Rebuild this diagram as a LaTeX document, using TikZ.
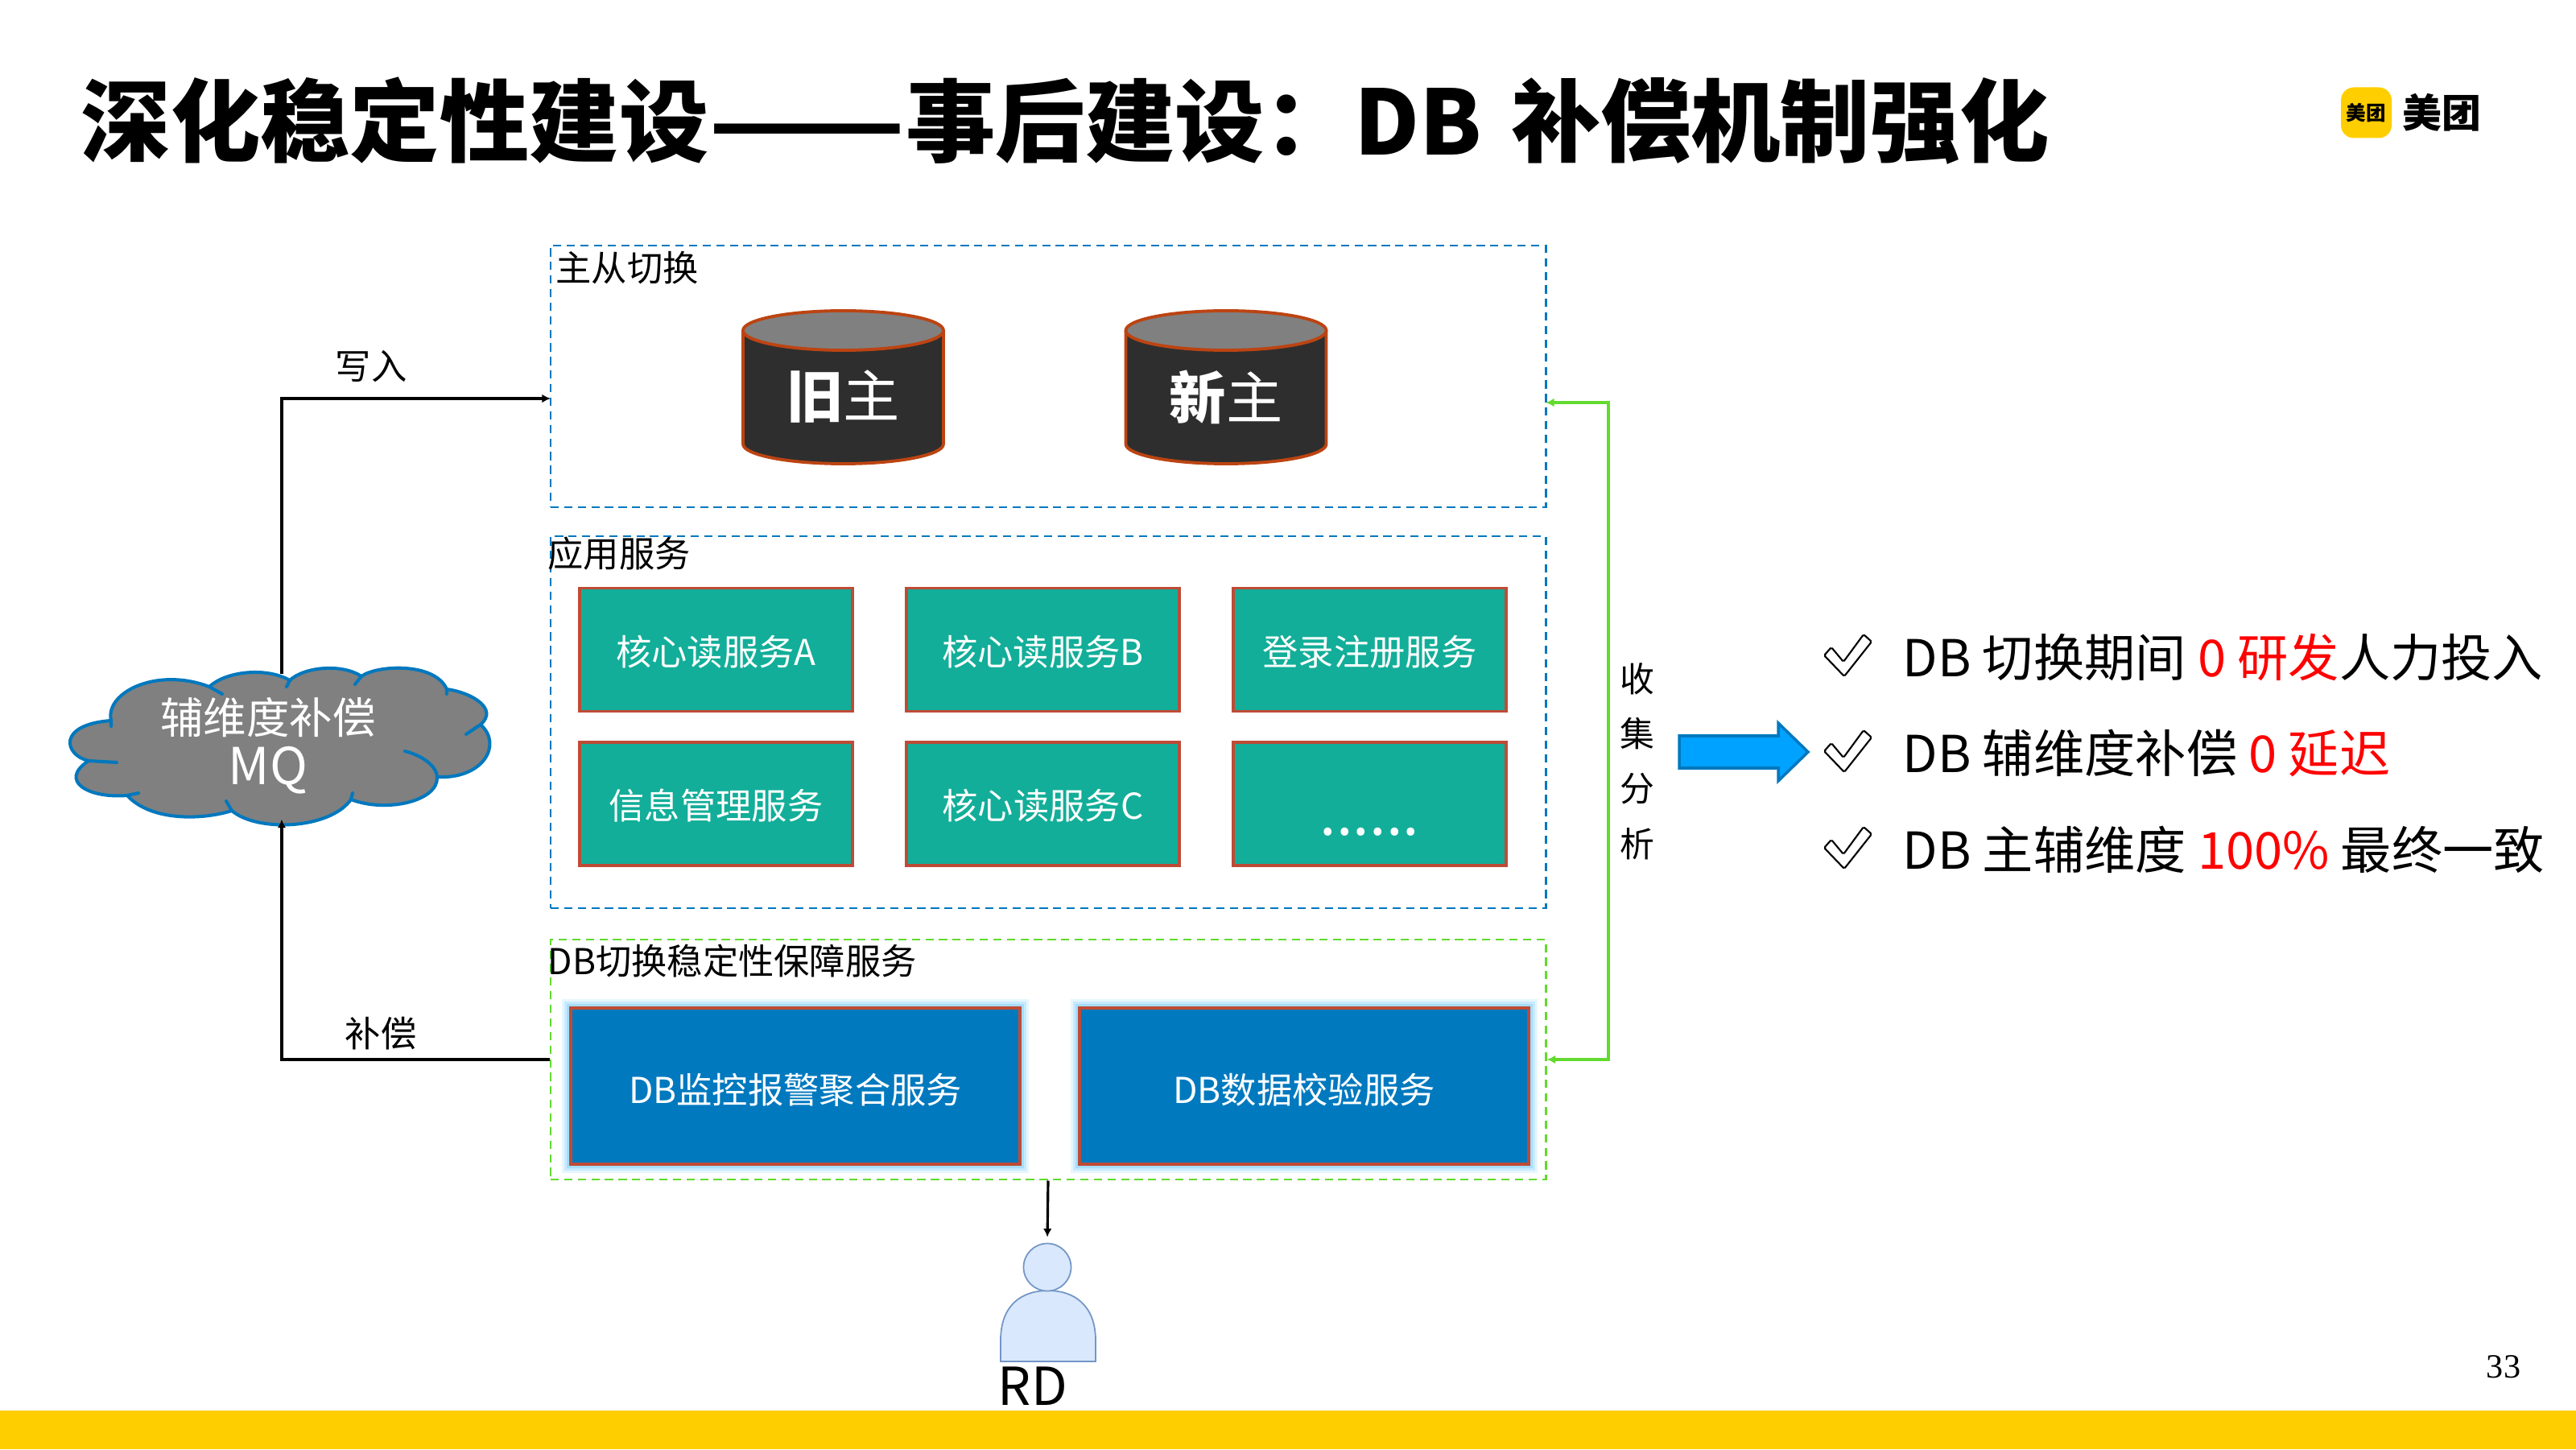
\documentclass[tikz,border=0pt]{standalone}
\usepackage{fontspec}
\setmainfont{Noto Sans CJK SC}
\newfontfamily\pagefont{Liberation Serif}
\usepackage{tikz}
\usetikzlibrary{calc}
\usetikzlibrary{arrows.meta}
\definecolor{dashblue}{HTML}{0078BE}
\definecolor{dashgreen}{HTML}{62DA2F}
\definecolor{edgered}{HTML}{BE4B36}
\definecolor{dbred}{HTML}{BC4412}
\definecolor{tealfill}{HTML}{12AE99}
\definecolor{bluefill}{HTML}{0079BF}
\definecolor{arrowfill}{HTML}{00A2FF}
\definecolor{barcolor}{HTML}{FFCE00}
\definecolor{glowblue}{HTML}{8FD4FF}
\definecolor{rdfill}{HTML}{D9E8FC}
\definecolor{rdline}{HTML}{7396C6}
\tikzset{
	txt/.style={font=\fontsize{12.6}{15}\selectfont,inner sep=0pt},
	group/.style={draw,dash pattern=on 2.9pt off 1.9pt,line width=0.85pt,inner sep=0pt},
	svcbox/.style={draw=edgered,fill=tealfill,line width=1.1pt,minimum width=3.39cm,minimum height=1.53cm,text=white,txt,text height=0.44cm,text depth=0.05cm},
	dbbox/.style={draw=edgered,fill=bluefill,line width=1.1pt,minimum width=5.58cm,minimum height=1.94cm,text=white,txt,text height=0.47cm,text depth=0.05cm,
		preaction={draw=glowblue,line width=6.5pt,opacity=0.22},
		preaction={draw=glowblue,line width=4.5pt,opacity=0.35},
		preaction={draw=glowblue,line width=2.8pt,opacity=0.6}},
	dbcyl/.style={draw=dbred,line width=1.1pt},
	blackline/.style={draw=black,line width=0.9pt},
	greenline/.style={draw=dashgreen,line width=1pt},
	result/.style={font=\fontsize{18}{21}\selectfont,inner sep=0pt,anchor=west},
	cloudline/.style={draw=dashblue,line width=1.15pt,line cap=round}
}
\begin{document}
\begin{tikzpicture}
	\useasboundingbox (0,0) rectangle (32,18);
	\fill[barcolor] (0,0) rectangle (32,0.48);
	\node (title) at (1.0,16.5) [anchor=west,inner sep=0pt,font=\fontsize{31.7}{36}\selectfont\bfseries] {深化稳定性建设\scalebox{1.28}[1]{——}事后建设：DB\hspace{0.1em} 补偿机制强化};
	
	%Logo
	\node (logo) at (29.395,16.6) [fill=barcolor,rounded corners=0.16cm,minimum size=0.63cm,inner sep=0pt,font=\fontsize{7}{8}\selectfont\bfseries] {美团};
	\node (logotxt) at (30.33,16.6) [inner sep=0pt,font=\fontsize{13.9}{16}\selectfont\bfseries] {美团};
	
	%Grupos
	\node (switch) at (13.02,13.325) [group,draw=dashblue,minimum width=12.36cm,minimum height=3.25cm] {};
	\node (apps) at (13.02,9.03) [group,draw=dashblue,minimum width=12.36cm,minimum height=4.62cm] {};
	\node (guard) at (13.02,4.84) [group,draw=dashgreen,minimum width=12.36cm,minimum height=2.98cm] {};
	\node (switchtxt) at (6.9,14.67) [txt,anchor=west] {主从切换};
	\node (appstxt) at (6.8,11.12) [txt,anchor=west] {应用服务};
	\node (guardtxt) at (6.8,6.06) [txt,anchor=west] {DB切换稳定性保障服务};
	
	%Cilindros
	\foreach \cx in {10.475,15.23} {
		\fill[black!82] (\cx-1.245,13.895) -- (\cx-1.245,12.485) arc (180:360:1.245 and 0.245) -- (\cx+1.245,13.895) -- cycle;
		\draw[dbcyl] (\cx-1.245,13.895) -- (\cx-1.245,12.485) arc (180:360:1.245 and 0.245) -- (\cx+1.245,13.895);
		\draw[dbcyl,fill=black!50] (\cx,13.895) ellipse (1.245 and 0.245);
	}
	\node (old) at (10.475,13.07) [text=white,inner sep=0pt,font=\fontsize{20}{24}\selectfont] {{\bfseries 旧}主};
	\node (new) at (15.23,13.07) [text=white,inner sep=0pt,font=\fontsize{20}{24}\selectfont] {{\bfseries 新}主};
	
	\node (svc1) at (8.895,9.93) [svcbox] {核心读服务A};
	\node (svc2) at (12.955,9.93) [svcbox] {核心读服务B};
	\node (svc3) at (17.015,9.93) [svcbox] {登录注册服务};
	\node (svc4) at (8.895,8.015) [svcbox] {信息管理服务};
	\node (svc5) at (12.955,8.015) [svcbox] {核心读服务C};
	\node (svc6) at (17.015,8.015) [svcbox,font=\fontsize{21}{24}\selectfont] {\raisebox{-0.2cm}{......}};
	
	\node (mon) at (9.88,4.51) [dbbox] {DB监控报警聚合服务};
	\node (check) at (16.2,4.51) [dbbox] {DB数据校验服务};
	
	%Nube
	\fill[black!50] (1.10,8.55) .. controls (0.80,8.62) and (0.70,9.0) .. (1.38,9.05)
		.. controls (1.30,9.40) and (1.95,9.72) .. (2.60,9.47)
		.. controls (2.80,9.66) and (3.30,9.72) .. (3.60,9.55)
		.. controls (3.78,9.72) and (4.25,9.76) .. (4.49,9.60)
		.. controls (4.68,9.74) and (5.40,9.78) .. (5.55,9.44)
		.. controls (5.85,9.40) and (6.20,9.20) .. (5.97,9.00)
		.. controls (6.25,8.75) and (6.0,8.32) .. (5.43,8.35)
		.. controls (5.45,8.05) and (4.8,7.90) .. (4.36,8.07)
		.. controls (4.10,7.70) and (3.20,7.66) .. (2.88,7.93)
		.. controls (2.45,7.80) and (1.85,7.82) .. (1.58,8.12)
		.. controls (1.10,8.08) and (0.72,8.30) .. (1.10,8.55) -- cycle;
	\draw[cloudline] (1.45,8.53) -- (1.10,8.55) .. controls (0.80,8.62) and (0.70,9.0) .. (1.38,9.05) -- (1.38,8.98);
	\draw[cloudline] (1.38,9.05) .. controls (1.30,9.40) and (1.95,9.72) .. (2.60,9.47) -- (2.76,9.38);
	\draw[cloudline] (2.60,9.47) .. controls (2.80,9.66) and (3.30,9.72) .. (3.60,9.55) -- (3.56,9.47);
	\draw[cloudline] (3.60,9.55) .. controls (3.78,9.72) and (4.25,9.76) .. (4.49,9.60) -- (4.41,9.50);
	\draw[cloudline] (4.49,9.60) .. controls (4.68,9.74) and (5.40,9.78) .. (5.55,9.44) -- (5.55,9.38);
	\draw[cloudline] (5.55,9.44) .. controls (5.85,9.40) and (6.20,9.20) .. (5.97,9.00) -- (5.79,8.88);
	\draw[cloudline] (5.97,9.00) .. controls (6.25,8.75) and (6.0,8.32) .. (5.43,8.35);
	\draw[cloudline] (5.03,8.67) .. controls (5.30,8.60) and (5.43,8.45) .. (5.43,8.35) .. controls (5.45,8.05) and (4.8,7.90) .. (4.36,8.07);
	\draw[cloudline] (4.38,8.15) -- (4.36,8.07) .. controls (4.10,7.70) and (3.20,7.66) .. (2.88,7.93) -- (2.81,8.05);
	\draw[cloudline] (2.88,7.93) .. controls (2.45,7.80) and (1.85,7.82) .. (1.58,8.12) -- (1.72,8.15);
	\draw[cloudline] (1.58,8.12) .. controls (1.10,8.08) and (0.72,8.30) .. (1.10,8.55);
	\node (mq) at (3.5,8.725) [minimum width=5cm,minimum height=1.79cm,inner sep=0pt] {};
	\node (mqtxt) at (3.33,8.74) [text=white,align=center,inner sep=0pt,font=\fontsize{15.2}{17.9}\selectfont] {辅维度补偿\\{\fontsize{18}{17.9}\selectfont MQ}};
	
	%Persona
	\draw[draw=rdline,fill=rdfill,line width=0.5pt] (12.43,1.09) -- (12.43,1.35) .. controls (12.43,1.8) and (12.7,1.97) .. (13.02,1.97)
		.. controls (13.33,1.97) and (13.61,1.8) .. (13.61,1.35) -- (13.61,1.09) -- cycle;
	\node (head) at (13.01,2.26) [draw=rdline,fill=rdfill,line width=0.5pt,circle,minimum size=0.59cm,inner sep=0pt] {};
	\node (rd) at (12.83,0.78) [inner sep=0pt,font=\fontsize{18.5}{21}\selectfont] {RD};
	
	\coordinate (writein) at (6.84,13.05);
	\coordinate (colectA) at (19.2,13.0);
	
	%Flechas
	\draw[blackline,-{Latex[length=3pt,width=3pt]}] (mq.north) |- (writein);
	\draw[blackline,-{Latex[length=3pt,width=3pt]}] (guard.west) -| (mq.south);
	\draw[blackline,-{Latex[length=3pt,width=3pt]},shorten >=0.07cm] (guard.south) -- (head.north);
	\draw[greenline,{Latex[length=3pt,width=3pt]}-{Latex[length=3pt,width=3pt]}] (colectA) -- (19.98,13.0) -- (19.98,4.84) -- (guard.east);
	
	\node (wrtxt) at (4.61,13.45) [txt] {写入};
	\node (cmptxt) at (4.73,5.16) [txt] {补偿};
	\node (col1) at (20.34,9.57) [inner sep=0pt,font=\fontsize{12.2}{15}\selectfont] {收};
	\node (col2) at (20.34,8.89) [inner sep=0pt,font=\fontsize{12.2}{15}\selectfont] {集};
	\node (col3) at (20.34,8.2) [inner sep=0pt,font=\fontsize{12.2}{15}\selectfont] {分};
	\node (col4) at (20.34,7.52) [inner sep=0pt,font=\fontsize{12.2}{15}\selectfont] {析};
	
	\draw[draw=dashblue,fill=arrowfill,line width=1pt] (20.86,8.86) -- (22.09,8.86) -- (22.09,9.02) -- (22.46,8.66)
		-- (22.09,8.30) -- (22.09,8.46) -- (20.86,8.46) -- cycle;
	
	%Resultados
	\foreach \dy in {0,-1.19,-2.39} {
		\draw[line width=0.6pt,rounded corners=0.5pt] (22.66,9.86+\dy) -- (22.75,9.96+\dy) -- (22.90,9.78+\dy) -- (23.15,10.12+\dy)
			-- (23.25,10.03+\dy) -- (22.91,9.60+\dy) -- cycle;
	}
	\node (res1) at (23.63,9.84) [result] {DB 切换期间 \textcolor{red}{0 研发}人力投入};
	\node (res2) at (23.63,8.64) [result] {DB 辅维度补偿 \textcolor{red}{0 延迟}};
	\node (res3) at (23.63,7.45) [result] {DB 主辅维度 \textcolor{red}{100\%} 最终一致};
	
	\node (pagenum) at (31.1,1.02) [inner sep=0pt,font=\fontsize{12}{14}\selectfont\pagefont] {33};
\end{tikzpicture}
\end{document}
